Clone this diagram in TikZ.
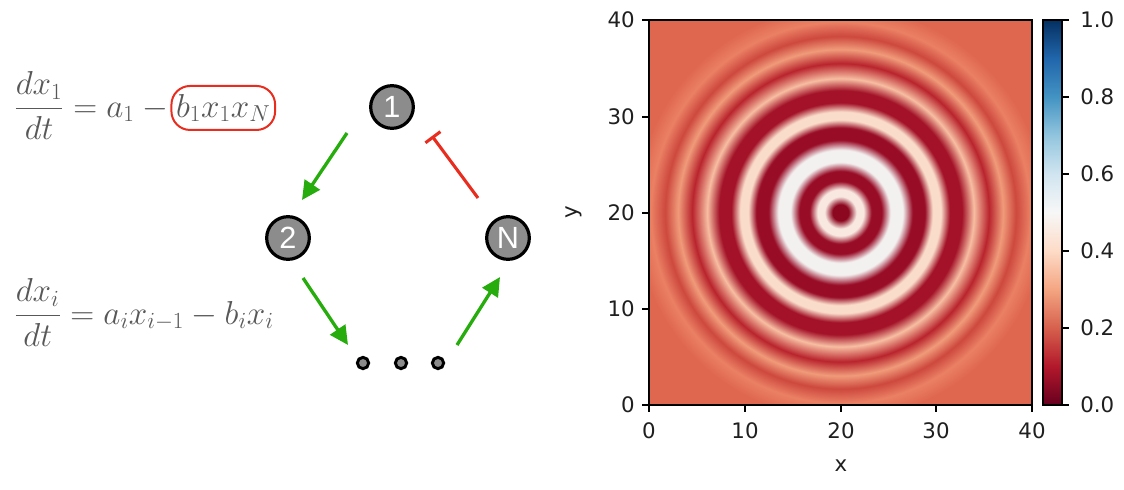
\documentclass[tikz,border=0pt]{standalone}
\usepackage{fontspec}
\newfontfamily\dvs{DejaVu Sans}
\newfontfamily\lsans{Liberation Sans}
\usetikzlibrary{arrows.meta,calc}

\definecolor{nodegray}{RGB}{140,140,140}
\definecolor{arrgreen}{RGB}{38,172,12}
\definecolor{inhred}{RGB}{232,44,30}
\definecolor{eqgray}{RGB}{88,88,88}
% heatmap ring colours
\definecolor{hdk0}{RGB}{140,8,33}
\definecolor{hlt1}{RGB}{248,232,224}
\definecolor{hdk}{RGB}{152,12,38}
\definecolor{hwh}{RGB}{243,241,240}
\definecolor{hlt2}{RGB}{250,220,202}
\definecolor{hdk2}{RGB}{163,18,40}
\definecolor{hpk}{RGB}{247,190,162}
\definecolor{hmd}{RGB}{185,36,45}
\definecolor{hsl}{RGB}{240,155,122}
\definecolor{hmd2}{RGB}{205,72,62}
\definecolor{hlt3}{RGB}{234,128,100}
\definecolor{hbg}{RGB}{223,103,80}
% RdBu colormap
\definecolor{rb0}{RGB}{103,0,31}
\definecolor{rb1}{RGB}{178,24,43}
\definecolor{rb2}{RGB}{214,96,77}
\definecolor{rb3}{RGB}{244,165,130}
\definecolor{rb4}{RGB}{253,219,199}
\definecolor{rb5}{RGB}{247,247,247}
\definecolor{rb6}{RGB}{209,229,240}
\definecolor{rb7}{RGB}{146,197,222}
\definecolor{rb8}{RGB}{67,147,195}
\definecolor{rb9}{RGB}{33,102,172}
\definecolor{rb10}{RGB}{5,48,97}

% radii: 1px = 0.1309bp
\pgfdeclareradialshading{rings}{\pgfpoint{0bp}{0bp}}{%
color(0bp)=(hdk0); color(1.05bp)=(hdk0); color(2.09bp)=(hlt1);
color(3.01bp)=(hlt1); color(4.06bp)=(hdk); color(5.37bp)=(hdk);
color(6.54bp)=(hwh); color(8.12bp)=(hwh); color(9.42bp)=(hdk);
color(11.0bp)=(hdk); color(12.04bp)=(hlt2); color(13.09bp)=(hlt2);
color(14.27bp)=(hdk2); color(15.84bp)=(hdk2); color(17.4bp)=(hpk);
color(19.37bp)=(hmd); color(21.2bp)=(hsl); color(22.9bp)=(hmd2);
color(24.74bp)=(hlt3); color(26.8bp)=(hbg); color(50bp)=(hbg)}

\pgfdeclareverticalshading{rdbu}{100bp}{%
color(0bp)=(rb0); color(25bp)=(rb0); color(30bp)=(rb1); color(35bp)=(rb2);
color(40bp)=(rb3); color(45bp)=(rb4); color(50bp)=(rb5); color(55bp)=(rb6);
color(60bp)=(rb7); color(65bp)=(rb8); color(70bp)=(rb9); color(75bp)=(rb10);
color(100bp)=(rb10)}

\tikzset{
  num/.style={circle, fill=nodegray, draw=black, line width=2.4pt,
    minimum size=32pt, inner sep=0pt, text=white,
    font=\lsans\fontsize{23}{23}\selectfont},
  dotn/.style={circle, fill=nodegray, draw=black, line width=2.2pt,
    minimum size=8.5pt, inner sep=0pt},
  act/.style={draw=arrgreen, line width=2.5pt,
    -{Triangle[length=14pt,width=13.5pt]}},
  inh/.style={draw=inhred, line width=2.3pt, -{Bar[width=14pt]}},
  eq/.style={text=eqgray, inner sep=0pt, font=\fontsize{26}{30}\selectfont},
  lbl/.style={font=\dvs\fontsize{16}{16}\selectfont, inner sep=0pt, text=black!88},
  tk/.style={line width=0.8pt, black}
}

\begin{document}
\begin{tikzpicture}[x=0.75pt,y=-0.75pt]
\useasboundingbox (0,0) rectangle (1124,489);

% ---------- equations ----------
\node[eq, anchor=base west] (e1) at (14,117)
  {$\displaystyle\frac{dx_1}{dt}=a_1-{}$};
\node[eq, anchor=base west, draw=inhred, line width=1.5pt,
  rounded corners=14pt, inner xsep=3.5pt, inner ysep=6pt]
  (e1b) at ($(e1.base east)+(-5,0)$) {$b_1x_1x_N$};
\node[eq, anchor=base west] (e2) at (14,324)
  {$\displaystyle\frac{dx_i}{dt}=a_ix_{i-1}-b_ix_i$};

% ---------- network ----------
\node[num] (n1) at (392,107) {1};
\node[num] (n2) at (288,238) {2};
\node[num] (nN) at (508,238) {N};
\node[dotn] (d1) at (363,363) {};
\node[dotn] (d2) at (401,363) {};
\node[dotn] (d3) at (438,363) {};

\draw[act] ($(n1)+(-45,26)$) -- ($(n2)+(14,-38)$);
\draw[act] ($(n2)+(15,40)$) -- ($(d1)+(-15,-18)$);
\draw[act] ($(d3)+(19,-18)$) -- ($(nN)+(-8,39)$);
\draw[inh] ($(nN)+(-30,-40)$) -- ($(n1)+(40,29)$);

% ---------- heatmap ----------
\shade[shading=rings] (649,20) rectangle (1032,405);
\draw[line width=1pt] (649,20) rectangle (1032,405);
\foreach \yy/\v in {405/0,309/10,213/20,117/30,20/40}{
  \draw[tk] (642,\yy) -- (649,\yy);
  \node[lbl, anchor=east] (yl\v) at (635,\yy) {\v};
}
\foreach \xx/\v in {649/0,745/10,841/20,936/30,1032/40}{
  \draw[tk] (\xx,405) -- (\xx,412);
  \node[lbl, anchor=north] (xl\v) at (\xx,422) {\v};
}
\node[lbl] (xlab) at (841,466) {x};
\node[lbl, rotate=90] (ylab) at (574,212) {y};

% ---------- colorbar ----------
\shade[shading=rdbu] (1043,20) rectangle (1062,405);
\draw[line width=0.8pt] (1043,20) rectangle (1062,405);
\foreach \yy/\v [count=\i] in {405/0.0,328/0.2,251/0.4,174/0.6,97/0.8,20/1.0}{
  \draw[tk] (1062,\yy) -- (1069,\yy);
  \node[lbl, anchor=west] (cl\i) at (1080,\yy) {\v};
}
\end{tikzpicture}
\end{document}
